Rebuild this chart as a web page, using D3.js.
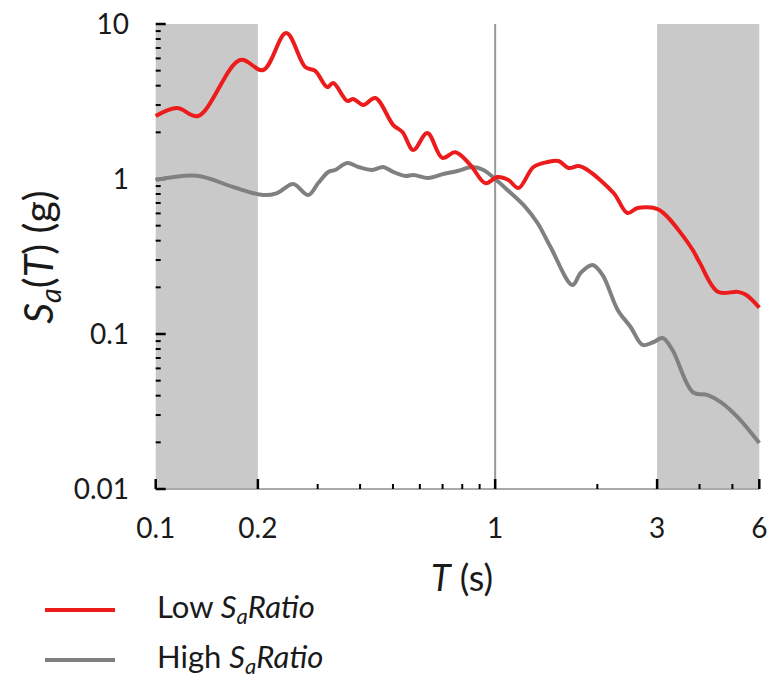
<!DOCTYPE html>
<html>
<head>
<meta charset="utf-8">
<script src="https://cdn.jsdelivr.net/npm/d3@7"></script>
<style>
    body { margin: 0; background: #fff; }
    text { font-family: Lato, "Open Sans", sans-serif; font-weight: 400; fill: #1a1a1a; }
</style>
</head>
<body>
<svg id="chart"></svg>
<script>
// period bands (s)
const shadedBands = [[0.1, 0.2], [3, 6]];
const refPeriod = 1;

// Low Sa Ratio spectrum
const lowT  = [0.1, 0.1156, 0.1333, 0.1773, 0.2073, 0.2423, 0.2757, 0.2951, 0.3201, 0.3334, 0.3667, 0.382, 0.4088, 0.4436,
               0.501, 0.533, 0.574, 0.631, 0.699, 0.764, 0.846, 0.936, 1.016, 1.094, 1.172, 1.297, 1.426, 1.537, 1.645,
               1.761, 1.871, 2.233, 2.455, 2.629, 3.009, 3.22, 3.52, 3.82, 4.0, 4.53, 5.19, 5.48, 6.0];
const lowSa = [2.55, 2.87, 2.55, 5.86, 5.05, 8.75, 5.28, 4.98, 3.92, 4.16, 3.19, 3.28, 3.0, 3.33,
               2.23, 2.01, 1.54, 1.98, 1.37, 1.49, 1.23, 0.94, 1.03, 0.985, 0.875, 1.195, 1.287, 1.306, 1.178,
               1.213, 1.143, 0.812, 0.603, 0.65, 0.64, 0.569, 0.449, 0.348, 0.29, 0.187, 0.187, 0.179, 0.148];

// High Sa Ratio spectrum
const highT  = [0.1, 0.1324, 0.169, 0.2073, 0.228, 0.254, 0.2814, 0.3012, 0.3224, 0.338, 0.3667, 0.3953, 0.4345, 0.468,
                0.501, 0.5438, 0.574, 0.636, 0.704, 0.774, 0.857, 0.924, 1.0, 1.087, 1.212, 1.333, 1.456, 1.69, 1.786,
                1.936, 2.073, 2.296, 2.506, 2.72, 2.93, 3.115, 3.33, 3.82, 4.23, 4.62, 5.18, 6.0];
const highSa = [0.985, 1.05, 0.888, 0.788, 0.812, 0.929, 0.788, 0.942, 1.11, 1.143, 1.268, 1.195, 1.143, 1.195,
                1.11, 1.046, 1.061, 1.015, 1.077, 1.126, 1.195, 1.143, 1.0, 0.85, 0.68, 0.52, 0.364, 0.207, 0.248,
                0.279, 0.24, 0.143, 0.111, 0.085, 0.0888, 0.0942, 0.0788, 0.0422, 0.0404, 0.0364, 0.0291, 0.0198];

const xMajor = [0.1, 0.2, 1, 3, 6];
const xMinor = [0.3, 0.4, 0.5, 0.6, 0.7, 0.8, 0.9, 2, 4, 5];
const yMajor = [0.01, 0.1, 1, 10];
const yTickLabels = ['0.01', '0.1', '1', '10'];

const legendItems = [
    {pre: 'Low ', color: '#ec1c1c'},
    {pre: 'High ', color: '#808080'}
];

const width = 771, height = 680;
const plotL = 155.7, plotR = 759.3, plotT = 24, plotB = 489;

const svg = d3.select('#chart').attr('width', width).attr('height', height);

const x = d3.scaleLog().domain([0.1, 6]).range([plotL, plotR]);
const y = d3.scaleLog().domain([0.01, 10]).range([plotB, plotT]);

// grey bands
svg.append('g').selectAll('rect')
    .data(shadedBands)
    .join('rect')
    .attr('x', d => x(d[0]))
    .attr('y', plotT)
    .attr('width', d => x(d[1]) - x(d[0]))
    .attr('height', plotB - plotT)
    .attr('fill', '#c9c9c9');

// vertical line at T = 1
svg.append('line')
    .attr('x1', x(refPeriod)).attr('x2', x(refPeriod))
    .attr('y1', plotT).attr('y2', plotB)
    .attr('stroke', '#999').attr('stroke-width', 2);

// x axis
svg.append('line')
    .attr('x1', plotL).attr('x2', plotR)
    .attr('y1', plotB).attr('y2', plotB)
    .attr('stroke', '#aaa').attr('stroke-width', 2);

const xTicks = svg.append('g');
xTicks.selectAll('line.major')
    .data(xMajor)
    .join('line')
    .attr('class', 'major')
    .attr('x1', d => x(d)).attr('x2', d => x(d))
    .attr('y1', plotB).attr('y2', plotB - 10)
    .attr('stroke', '#000').attr('stroke-width', 2.5);
xTicks.selectAll('line.minor')
    .data(xMinor)
    .join('line')
    .attr('class', 'minor')
    .attr('x1', d => x(d)).attr('x2', d => x(d))
    .attr('y1', plotB).attr('y2', plotB - 5)
    .attr('stroke', '#000').attr('stroke-width', 2);
xTicks.selectAll('text')
    .data(xMajor)
    .join('text')
    .attr('x', d => x(d))
    .attr('y', 538)
    .attr('text-anchor', 'middle')
    .style('font-size', '28px')
    .text(d => d);

// y axis ticks (no spine)
let yMinor = [];
yMajor.slice(0, -1).forEach(v => {
    for (let k = 2; k <= 9; k++) yMinor.push(v * k);
});
const yTicks = svg.append('g');
yTicks.selectAll('line.major')
    .data(yMajor)
    .join('line')
    .attr('class', 'major')
    .attr('x1', plotL).attr('x2', plotL + 10)
    .attr('y1', d => y(d)).attr('y2', d => y(d))
    .attr('stroke', '#000').attr('stroke-width', 2.5);
yTicks.selectAll('line.minor')
    .data(yMinor)
    .join('line')
    .attr('class', 'minor')
    .attr('x1', plotL).attr('x2', plotL + 5)
    .attr('y1', d => y(d)).attr('y2', d => y(d))
    .attr('stroke', '#000').attr('stroke-width', 2);
yTicks.selectAll('text')
    .data(yMajor)
    .join('text')
    .attr('x', 129)
    .attr('y', d => y(d))
    .attr('dy', '0.36em')
    .attr('text-anchor', 'end')
    .style('font-size', '28px')
    .text((d, i) => yTickLabels[i]);

// spectra
const line = d3.line()
    .x(d => x(d[0]))
    .y(d => y(d[1]))
    .curve(d3.curveCatmullRom.alpha(0.5));

svg.append('path')
    .datum(highT.map((t, i) => [t, highSa[i]]))
    .attr('d', line)
    .attr('fill', 'none')
    .attr('stroke', legendItems[1].color)
    .attr('stroke-width', 4)
    .attr('stroke-linejoin', 'round');

svg.append('path')
    .datum(lowT.map((t, i) => [t, lowSa[i]]))
    .attr('d', line)
    .attr('fill', 'none')
    .attr('stroke', legendItems[0].color)
    .attr('stroke-width', 4)
    .attr('stroke-linejoin', 'round');

// y label: Sa(T) (g)
const yLab = svg.append('text')
    .attr('transform', 'translate(53,257) rotate(-90)')
    .attr('text-anchor', 'middle')
    .style('font-size', '41px');
yLab.append('tspan').style('font-style', 'italic').text('S');
yLab.append('tspan').style('font-style', 'italic').style('font-size', '29px').attr('dy', 8).text('a');
yLab.append('tspan').attr('dy', -8).text('(');
yLab.append('tspan').style('font-style', 'italic').text('T');
yLab.append('tspan').text(') (g)');

// x label: T (s)
const xLab = svg.append('text')
    .attr('x', 462)
    .attr('y', 591)
    .attr('text-anchor', 'middle')
    .style('font-size', '36px');
xLab.append('tspan').style('font-style', 'italic').text('T');
xLab.append('tspan').text(' (s)');

// legend
const legend = svg.append('g').selectAll('g')
    .data(legendItems)
    .join('g')
    .attr('transform', (d, i) => 'translate(0,' + (610 + i * 50) + ')');
legend.append('line')
    .attr('x1', 45).attr('x2', 115)
    .attr('stroke', d => d.color)
    .attr('stroke-width', 4);
const lt = legend.append('text')
    .attr('x', 157)
    .attr('y', 8)
    .style('font-size', '31px');
lt.append('tspan').text(d => d.pre);
lt.append('tspan').style('font-style', 'italic').text('S');
lt.append('tspan').style('font-style', 'italic').style('font-size', '22px').attr('dy', 6).text('a');
lt.append('tspan').style('font-style', 'italic').attr('dy', -6).text('Ratio');
</script>
</body>
</html>
